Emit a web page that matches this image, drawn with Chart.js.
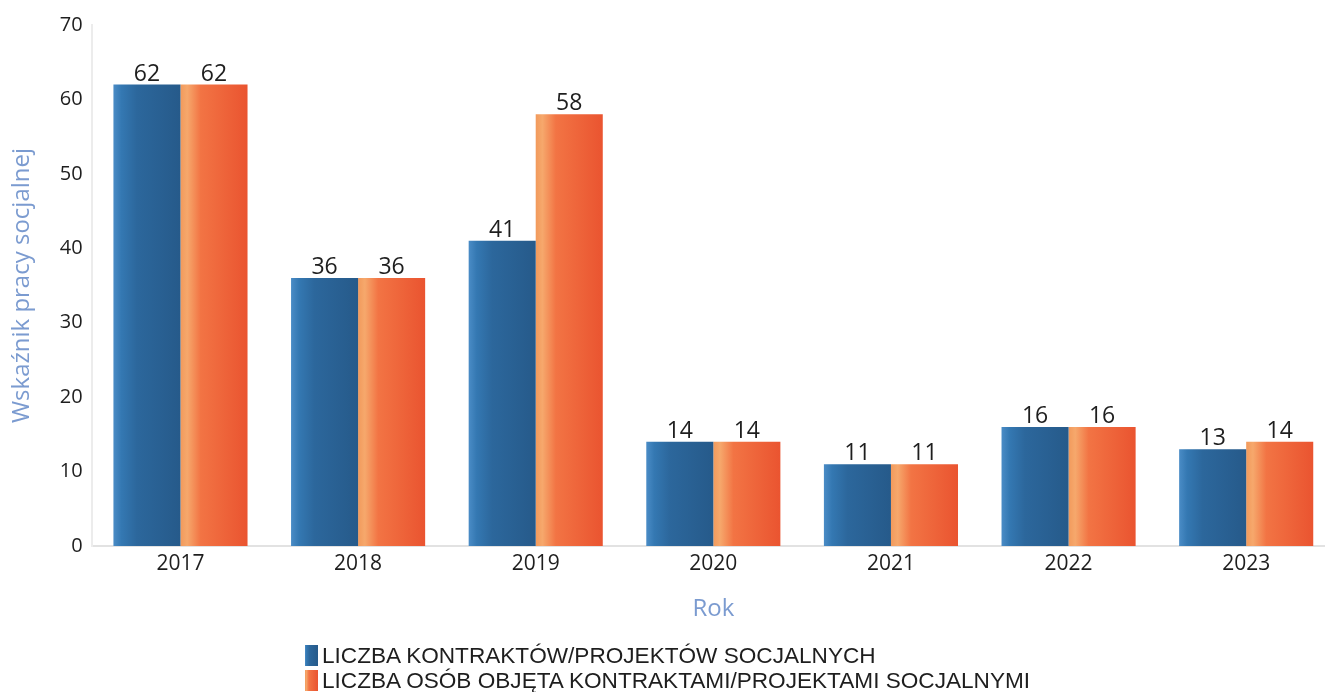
<!DOCTYPE html>
<html>
<head>
<meta charset="utf-8">
<script src="https://cdn.jsdelivr.net/npm/chart.js@4/dist/chart.umd.min.js"></script>
<style>
  html, body { margin: 0; padding: 0; background: #fff; overflow: hidden; }
  #wrap { position: relative; width: 1340px; height: 692px; }
  #legend { position: absolute; left: 305px; top: 643px; font-family: "Liberation Sans", Arial, sans-serif; font-size: 22.6px; color: #1e1e1e; line-height: 25px; }
  #legend .item { display: flex; align-items: center; white-space: nowrap; }
  #legend .box { width: 13px; height: 21px; margin-right: 4px; }
</style>
</head>
<body>
<div id="wrap">
  <canvas id="chart" width="1340" height="692"></canvas>
  <div id="legend"></div>
</div>
<script>
// data
const years = ['2017', '2018', '2019', '2020', '2021', '2022', '2023'];
const contracts = [62, 36, 41, 14, 11, 16, 13];
const persons = [62, 36, 58, 14, 11, 16, 14];
const seriesNames = [
    'LICZBA KONTRAKTÓW/PROJEKTÓW SOCJALNYCH',
    'LICZBA OSÓB OBJĘTA KONTRAKTAMI/PROJEKTAMI SOCJALNYMI'
];
const yTicks = [0, 10, 20, 30, 40, 50, 60, 70];

const catPct = 0.755;
const blueStops = [[0, '#4a8cc6'], [0.12, '#3478b2'], [0.35, '#2c679c'], [1, '#265a8a']];
const orangeStops = [[0, '#f29a5c'], [0.1, '#f6a86c'], [0.3, '#f27444'], [1, '#ea5430']];

// horizontal shading inside each bar, computed from the x scale
function barFill(stops) {
    return function (ctx) {
        const chart = ctx.chart;
        const xs = chart.scales.x;
        if (ctx.type !== 'data' || !xs || !xs.width) return stops[2][1];
        const center = xs.getPixelForValue(ctx.dataIndex);
        const w = xs.width / years.length * catPct;
        const left = center - w / 2 + ctx.datasetIndex * w / 2;
        const g = chart.ctx.createLinearGradient(left, 0, left + w / 2, 0);
        stops.forEach(s => g.addColorStop(s[0], s[1]));
        return g;
    };
}

// values above bars
const valueLabels = {
    id: 'valueLabels',
    afterDatasetsDraw(chart) {
        const c = chart.ctx;
        c.save();
        c.font = '23px "Open Sans", sans-serif';
        c.fillStyle = '#1e1e1e';
        c.textAlign = 'center';
        c.textBaseline = 'bottom';
        chart.data.datasets.forEach((ds, i) => {
            chart.getDatasetMeta(i).data.forEach((el, j) => {
                c.fillText(ds.data[j], el.x, el.y + 1);
            });
        });
        c.restore();
    }
};

const chart = new Chart(document.getElementById('chart'), {
    type: 'bar',
    data: {
        labels: years,
        datasets: [
            { label: seriesNames[0], data: contracts, backgroundColor: barFill(blueStops) },
            { label: seriesNames[1], data: persons, backgroundColor: barFill(orangeStops) }
        ]
    },
    options: {
        responsive: false,
        animation: false,
        layout: { padding: { top: 25, left: 8, bottom: 68, right: 5 } },
        datasets: { bar: { categoryPercentage: catPct, barPercentage: 1 } },
        plugins: {
            legend: { display: false },
            tooltip: { enabled: false }
        },
        scales: {
            x: {
                grid: { display: false, tickLength: 0 },
                border: { display: true, color: '#e2e2e2', width: 2 },
                ticks: { color: '#1e1e1e', font: { family: 'Open Sans', size: 21 }, padding: 5 },
                title: { display: true, text: 'Rok', color: '#7b9bd0', font: { family: 'Open Sans', size: 24 }, padding: { top: 14, bottom: 0 } }
            },
            y: {
                min: 0,
                max: 70,
                afterBuildTicks: axis => { axis.ticks = yTicks.map(v => ({ value: v })); },
                grid: { display: false, tickLength: 0 },
                border: { display: true, color: '#ececec', width: 2 },
                ticks: { color: '#1e1e1e', font: { family: 'Open Sans', size: 20 }, padding: 9 },
                title: { display: true, text: 'Wskaźnik pracy socjalnej', color: '#7b9bd0', font: { family: 'Open Sans', size: 24 }, padding: { top: 0, bottom: 14 } }
            }
        }
    },
    plugins: [valueLabels]
});

// legend below the chart, two left-aligned rows
const legendEl = document.getElementById('legend');
chart.data.datasets.forEach((ds, i) => {
    const stops = i === 0 ? blueStops : orangeStops;
    const item = document.createElement('div');
    item.className = 'item';
    const box = document.createElement('span');
    box.className = 'box';
    box.style.background = 'linear-gradient(to right,' + stops.map(s => s[1] + ' ' + s[0] * 100 + '%').join(',') + ')';
    const txt = document.createElement('span');
    txt.textContent = ds.label;
    item.appendChild(box);
    item.appendChild(txt);
    legendEl.appendChild(item);
});
</script>
</body>
</html>
